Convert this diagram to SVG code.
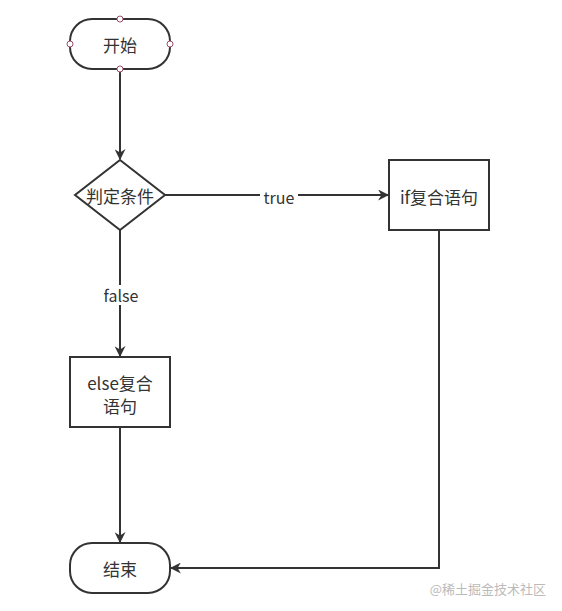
<svg xmlns="http://www.w3.org/2000/svg" width="562" height="611" viewBox="0 0 562 611">
<style>
.s{fill:#fff;stroke:#333;stroke-width:2}
.t{font-family:"Noto Sans CJK SC","Noto Sans",sans-serif;font-size:17px;fill:#333;text-anchor:middle;dominant-baseline:central}
.e{fill:none;stroke:#333;stroke-width:2}
.p{fill:#fff;stroke:#a0506a;stroke-width:1}
.l{font-family:"Noto Sans CJK SC","Noto Sans",sans-serif;font-size:16px;fill:#333;text-anchor:middle;dominant-baseline:central}
</style>
<defs>
<marker id="a" viewBox="0 0 10 10" refX="9" refY="5" markerWidth="5.5" markerHeight="5.5" orient="auto" markerUnits="strokeWidth"><path d="M0,0 L10,5 L0,10 L3,5 Z" fill="#333"/></marker>
</defs>
<rect width="562" height="611" fill="#fff"/>
<g id="connectors">
<line class="e" x1="120" y1="69" x2="120" y2="159" marker-end="url(#a)"/>
<line class="e" x1="165" y1="195" x2="388" y2="195" marker-end="url(#a)"/>
<rect x="260" y="186" width="38" height="20" fill="#fff"/>
<text class="l" x="279" y="197">true</text>
<line class="e" x1="120" y1="230" x2="120" y2="356" marker-end="url(#a)"/>
<rect x="100" y="285" width="42" height="20" fill="#fff"/>
<text class="l" x="121" y="295">false</text>
<line class="e" x1="120" y1="427" x2="120" y2="542" marker-end="url(#a)"/>
<polyline class="e" points="439,230 439,568 171,568" marker-end="url(#a)"/>
</g>
<g id="start">
<rect class="s" x="70" y="19" width="100" height="50" rx="22" ry="22"/>
<text class="t" x="120" y="44">开始</text>
<circle class="p" cx="120" cy="19" r="3"/>
<circle class="p" cx="70" cy="44" r="3"/>
<circle class="p" cx="170" cy="44" r="3"/>
<circle class="p" cx="120" cy="69" r="3"/>
</g>
<g id="cond">
<polygon class="s" points="120,160 165,195 120,230 75,195"/>
<text class="t" x="120" y="195">判定条件</text>
</g>
<g id="if">
<rect class="s" x="389" y="160" width="100" height="70"/>
<text class="t" x="439" y="196">if复合语句</text>
</g>
<g id="else">
<rect class="s" x="70" y="357" width="100" height="70"/>
<text class="t" x="120" y="382">else复合</text>
<text class="t" x="120" y="405">语句</text>
</g>
<g id="end">
<rect class="s" x="70" y="543" width="100" height="50" rx="22" ry="22"/>
<text class="t" x="120" y="568">结束</text>
</g>
<text x="546" y="588" font-family="Noto Sans CJK SC,sans-serif" font-size="13" fill="#bbb" text-anchor="end" dominant-baseline="central">@稀土掘金技术社区</text>
</svg>
